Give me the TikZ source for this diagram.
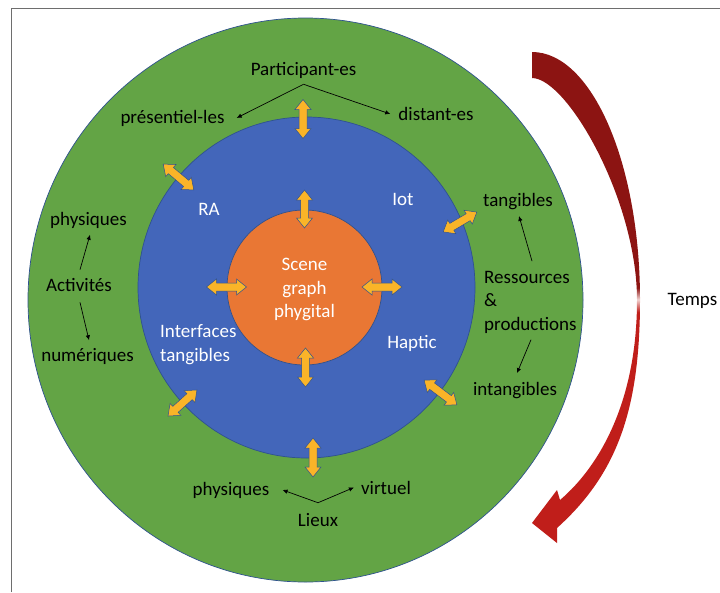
\documentclass[tikz,border=0pt]{standalone}
\usepackage{fontspec}
\setmainfont{Carlito}
\usetikzlibrary{arrows.meta}

\definecolor{ringgreen}{RGB}{99,164,69}
\definecolor{ringblue}{RGB}{67,102,186}
\definecolor{coreorange}{RGB}{233,119,52}
\definecolor{linkyellow}{RGB}{250,180,40}
\definecolor{edgeblue}{RGB}{47,82,143}
\definecolor{framegray}{RGB}{110,110,110}
\definecolor{timedark}{RGB}{140,20,18}
\definecolor{timebright}{RGB}{192,30,26}
\definecolor{timepale}{RGB}{242,212,210}

% red time band: bright at the bottom, pale where it is thinnest, dark at the top
\pgfdeclareverticalshading{timeband}{100bp}{color(0bp)=(timebright); color(48.5bp)=(timebright); color(49.8bp)=(timepale); color(51bp)=(timedark); color(100bp)=(timedark)}

\tikzset{
  ringline/.style={draw=edgeblue, line width=0.7pt},
  lbl/.style={inner sep=0pt, text=black},
  inlbl/.style={inner sep=0pt, text=white},
  conn/.style={draw=black, line width=0.7pt, -{Latex[length=5pt,width=4.5pt]}},
  linkarrow/.style={fill=linkyellow, draw=edgeblue, line width=0.5pt, line join=miter},
  pics/dbl/.style={code={
    \path[linkarrow] (-#1/2,0) -- (-#1/2+10,8) -- (-#1/2+10,4) -- (#1/2-10,4)
      -- (#1/2-10,8) -- (#1/2,0) -- (#1/2-10,-8) -- (#1/2-10,-4)
      -- (-#1/2+10,-4) -- (-#1/2+10,-8) -- cycle;
  }}
}

\begin{document}
\begin{tikzpicture}[x=1pt, y=-1pt, font=\fontsize{19}{23.5}\selectfont]
\useasboundingbox (0,0) rectangle (720,592);

% frame
\draw[framegray, line width=1pt] (11,592) -- (11,8) -- (720,8);

% rings
\path[ringline, fill=ringgreen] (305.5,300) ellipse [x radius=277.5, y radius=282];
\path[ringline, fill=ringblue] (306.5,287.5) ellipse [x radius=168.5, y radius=170.5];
\path[ringline, fill=coreorange] (304.5,287.5) circle [radius=77.5];

% two-way links between the layers
\pic[rotate=90] at (303,119) {dbl=39};
\pic[rotate=-40] at (178.5,177) {dbl=40};
\pic[rotate=90] at (304.5,209) {dbl=38};
\pic at (226.5,287) {dbl=40};
\pic at (382,287) {dbl=40};
\pic[rotate=90] at (305.5,367.5) {dbl=39};
\pic[rotate=30.5] at (460,222) {dbl=39};
\pic[rotate=42] at (182.5,403) {dbl=39};
\pic[rotate=-37] at (440.5,392.5) {dbl=41};
\pic[rotate=90] at (313,457.5) {dbl=39};

% labels of the outer ring
\node[lbl, anchor=base] (part) at (303.5,75) {Participant-es};
\node[lbl, anchor=base] (pres) at (172.5,123) {présentiel-les};
\node[lbl, anchor=base] (dist) at (436,120.5) {distant-es};
\node[lbl, anchor=base] (physA) at (88.5,225) {physiques};
\node[lbl, anchor=base] (act) at (79,291) {Activités};
\node[lbl, anchor=base] (num) at (87.5,361.5) {numériques};
\node[lbl, anchor=base] (tang) at (518,206) {tangibles};
\node[lbl, anchor=west, align=left] (res) at (484,302.4) {Ressources\\\&\\productions};
\node[lbl, anchor=base] (intang) at (515,395) {intangibles};
\node[lbl, anchor=base] (physL) at (231,495) {physiques};
\node[lbl, anchor=base] (virt) at (386,494) {virtuel};
\node[lbl, anchor=base] (lieux) at (318,526) {Lieux};
\node[lbl, anchor=base] (temps) at (692.5,305) {Temps};

% labels of the inner layers
\node[inlbl, anchor=base] (ra) at (209,215) {RA};
\node[inlbl, anchor=base] (iot) at (403,205) {Iot};
\node[inlbl, anchor=west, align=left] (itf) at (160,344.4) {Interfaces\\tangibles};
\node[inlbl, anchor=base] (hap) at (412,348) {Haptic};
\node[inlbl, align=center] (core) at (304.5,289.5) {Scene\\graph\\phygital};

% branching connectors
\coordinate (psplit) at ([yshift=-6pt]part.south);
\draw[conn] (psplit) -- ([xshift=12pt]pres.east);
\draw[conn] (psplit) -- ([xshift=-8pt]dist.west);

\draw[conn] ([xshift=1pt,yshift=8pt]act.north) -- ([xshift=1.5pt,yshift=-6.5pt]physA.south);
\draw[conn] ([xshift=1pt,yshift=-11pt]act.south) -- ([xshift=1.5pt,yshift=8pt]num.north);

\draw[conn] ([xshift=48pt,yshift=10pt]res.north west) -- ([xshift=1pt,yshift=-6.5pt]tang.south);
\draw[conn] ([xshift=47pt,yshift=-6pt]res.south west) -- ([xshift=2pt,yshift=8.5pt]intang.north);

\coordinate (lsplit) at ([yshift=10pt]lieux.north);
\draw[conn] (lsplit) -- ([xshift=13pt]physL.east);
\draw[conn] (lsplit) -- ([xshift=-7pt]virt.west);

% time arrow: a tapering band that sweeps down the right side
\shade[shading=timeband]
  (532,52) arc[start angle=-90, end angle=0, x radius=108, y radius=248]
  .. controls (640,410) and (617,474) .. (557,528)
  -- (557,543) -- (532,523) -- (557,490) -- (560,500)
  .. controls (600.5,465.5) and (637,400) .. (637,300)
  .. controls (637,200) and (567,78) .. (532,78)
  -- cycle;
\end{tikzpicture}
\end{document}
